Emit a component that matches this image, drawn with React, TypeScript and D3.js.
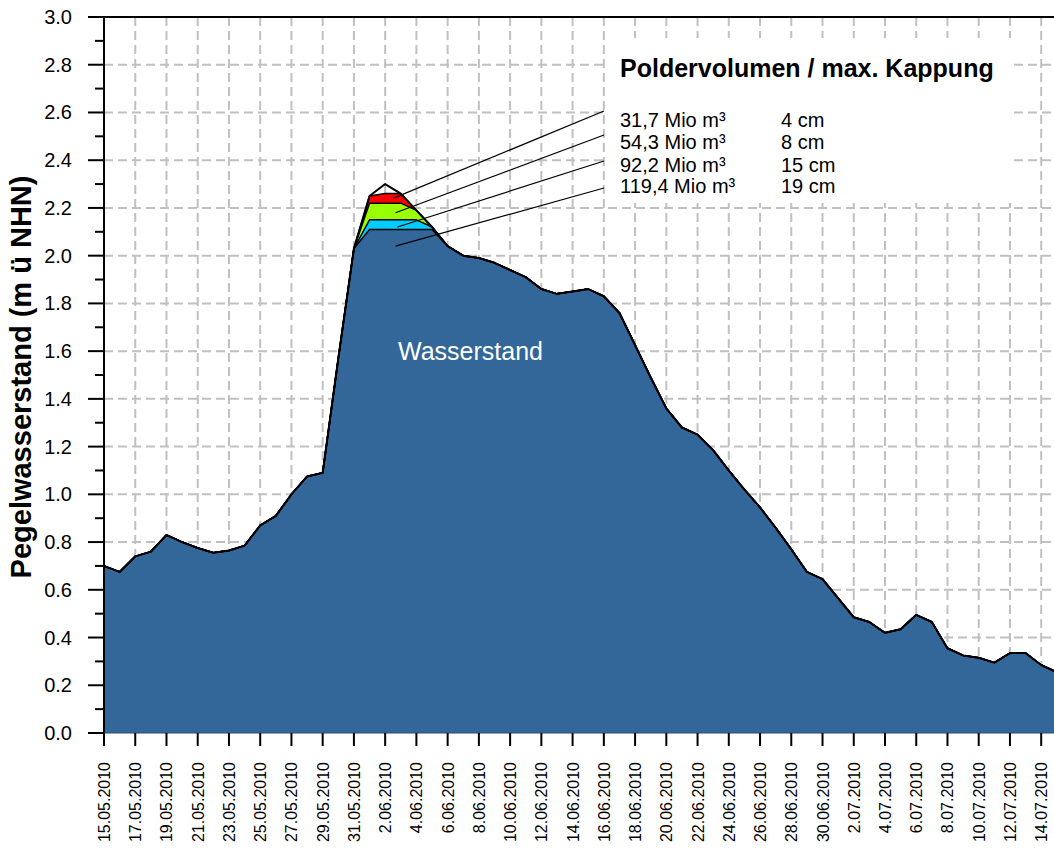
import React from "react";
import * as d3 from "d3";

// ---- data ----
const startDate = new Date(2010, 4, 15);
const waterLevel = [
  0.70, 0.675, 0.74, 0.76, 0.83, 0.80, 0.775, 0.755, 0.765, 0.785,
  0.87, 0.91, 1.00, 1.075, 1.09, 1.57, 2.03, 2.25, 2.30, 2.26,
  2.19, 2.12, 2.04, 2.00, 1.99, 1.97, 1.94, 1.91, 1.86, 1.84,
  1.85, 1.86, 1.83, 1.76, 1.625, 1.49, 1.36, 1.28, 1.25, 1.185,
  1.10, 1.02, 0.945, 0.86, 0.77, 0.675, 0.645, 0.565, 0.485, 0.465,
  0.42, 0.435, 0.495, 0.465, 0.355, 0.325, 0.315, 0.295, 0.335, 0.335,
  0.285, 0.255,
];
const polderVolumes = ["31,7 Mio m³", "54,3 Mio m³", "92,2 Mio m³", "119,4 Mio m³"];
const kappungCm = [4, 8, 15, 19];
const kappungLabels = ["4 cm", "8 cm", "15 cm", "19 cm"];
const layerColors = ["#ff0000", "#99ff00", "#00ccff", "#336699"];
const yTickValues = [0, 0.2, 0.4, 0.6, 0.8, 1.0, 1.2, 1.4, 1.6, 1.8, 2.0, 2.2, 2.4, 2.6, 2.8, 3.0];
const legendTitle = "Poldervolumen / max. Kappung";
const yTitle = "Pegelwasserstand (m ü NHN)";
const areaLabel = "Wasserstand";
// leader-line anchor points (value space: day index, level) inside each layer
const leaderTargets: [number, number][] = [
  [18.5, 2.24],
  [18.7, 2.18],
  [18.8, 2.12],
  [18.7, 2.04],
];

const W = 1054;
const H = 848;
const FONT = "'Liberation Sans', Arial, Helvetica, sans-serif";

export default function App() {
  const dates = waterLevel.map((_, i) => d3.timeDay.offset(startDate, i));
  const endDate = dates[dates.length - 1];
  const x = d3
    .scaleTime()
    .domain([startDate, endDate])
    .range([104, 104 + (waterLevel.length - 1) * 15.62]);
  const y = d3.scaleLinear().domain([0, 3]).range([733, 17]);
  const x0 = 104;
  const yBottom = y(0);
  const yTop = y(3);

  const peak = d3.max(waterLevel) as number;
  const caps = kappungCm.map((c) => peak - c / 100);

  const areaGen = d3
    .area<number>()
    .x((_, i) => x(dates[i]))
    .y0(yBottom)
    .y1((d) => y(d));
  const lineGen = d3
    .line<number>()
    .x((_, i) => x(dates[i]))
    .y((d) => y(d));

  const layers = caps.map((c) => waterLevel.map((v) => Math.min(v, c)));

  const tickDates = d3.timeDay.range(startDate, d3.timeDay.offset(endDate, 1), 2);
  const fmt = d3.timeFormat("%-d.%m.%Y");

  const gridStyle = { stroke: "#c0c0c0", strokeWidth: 2, strokeDasharray: "9,5" };

  const legendRowsY = [126.7, 149, 171.7, 193.3];
  const leaderEnds: [number, number][] = [
    [604, 111],
    [604, 135],
    [604, 161],
    [604, 188],
  ];

  const dayX = (d: number) => x(d3.timeHour.offset(startDate, d * 24));

  return (
    <svg
      width={W}
      height={H}
      style={{ position: "absolute", left: 0, top: 0, background: "#fff" }}
      fontFamily={FONT}
    >
      <rect x={0} y={0} width={W} height={H} fill="#fff" />
      {/* grid */}
      {tickDates.slice(1).map((d, i) => (
        <line key={"vg" + i} x1={x(d)} x2={x(d)} y1={yTop} y2={yBottom} style={gridStyle} />
      ))}
      {yTickValues.slice(1, -1).map((v, i) => (
        <line key={"hg" + i} x1={x0} x2={W} y1={y(v)} y2={y(v)} style={gridStyle} />
      ))}

      {/* legend box */}
      <rect x={605} y={38} width={407} height={165} fill="#fff" />

      {/* layers */}
      {layers.map((l, i) => (
        <path key={"a" + i} d={areaGen(l) || ""} fill={layerColors[i]} />
      ))}
      {layers.map((l, i) => (
        <path key={"l" + i} d={lineGen(l) || ""} fill="none" stroke="#000" strokeWidth={1.5} strokeLinejoin="round" />
      ))}
      <path d={lineGen(waterLevel) || ""} fill="none" stroke="#000" strokeWidth={2} strokeLinejoin="round" />

      {/* area label */}
      <text x={398} y={360} fill="#fff" fontSize={25}>
        {areaLabel}
      </text>

      {/* legend */}
      <text x={620} y={77} fontSize={25} fontWeight="bold" fill="#000">
        {legendTitle}
      </text>
      {polderVolumes.map((p, i) => (
        <g key={"lg" + i}>
          <text x={620} y={legendRowsY[i]} fontSize={20} fill="#000">
            {p}
          </text>
          <text x={781} y={legendRowsY[i]} fontSize={20} fill="#000">
            {kappungLabels[i]}
          </text>
          <line
            x1={dayX(leaderTargets[i][0])}
            y1={y(leaderTargets[i][1])}
            x2={leaderEnds[i][0]}
            y2={leaderEnds[i][1]}
            stroke="#000"
            strokeWidth={1.2}
          />
        </g>
      ))}

      {/* axes */}
      <line x1={x0} x2={W} y1={yTop} y2={yTop} stroke="#000" strokeWidth={2} />
      <line x1={x0} x2={x0} y1={yTop} y2={yBottom + 1} stroke="#000" strokeWidth={2} />
      <line x1={x0} x2={W} y1={yBottom} y2={yBottom} stroke="#2a4f6e" strokeWidth={1} />
      {d3.range(1, 30, 2).map((k) => (
        <line key={"mt" + k} x1={95} x2={x0} y1={y(k / 10)} y2={y(k / 10)} stroke="#000" strokeWidth={2} />
      ))}
      {yTickValues.map((v, i) => (
        <g key={"yt" + i}>
          <line x1={88} x2={x0} y1={y(v)} y2={y(v)} stroke="#000" strokeWidth={2} />
          <text x={72} y={y(v) + 7} textAnchor="end" fontSize={20} fill="#000">
            {v.toFixed(1)}
          </text>
        </g>
      ))}
      {tickDates.map((d, i) => (
        <g key={"xt" + i}>
          <line x1={x(d)} x2={x(d)} y1={yBottom} y2={yBottom + 13} stroke="#000" strokeWidth={2} />
          <text
            transform={`translate(${x(d) + 6},762) rotate(-90)`}
            textAnchor="end"
            fontSize={16}
            fill="#000"
          >
            {fmt(d)}
          </text>
        </g>
      ))}

      <text
        transform={`translate(31,377) rotate(-90)`}
        textAnchor="middle"
        fontSize={29}
        fontWeight="bold"
        fill="#000"
      >
        {yTitle}
      </text>
    </svg>
  );
}
